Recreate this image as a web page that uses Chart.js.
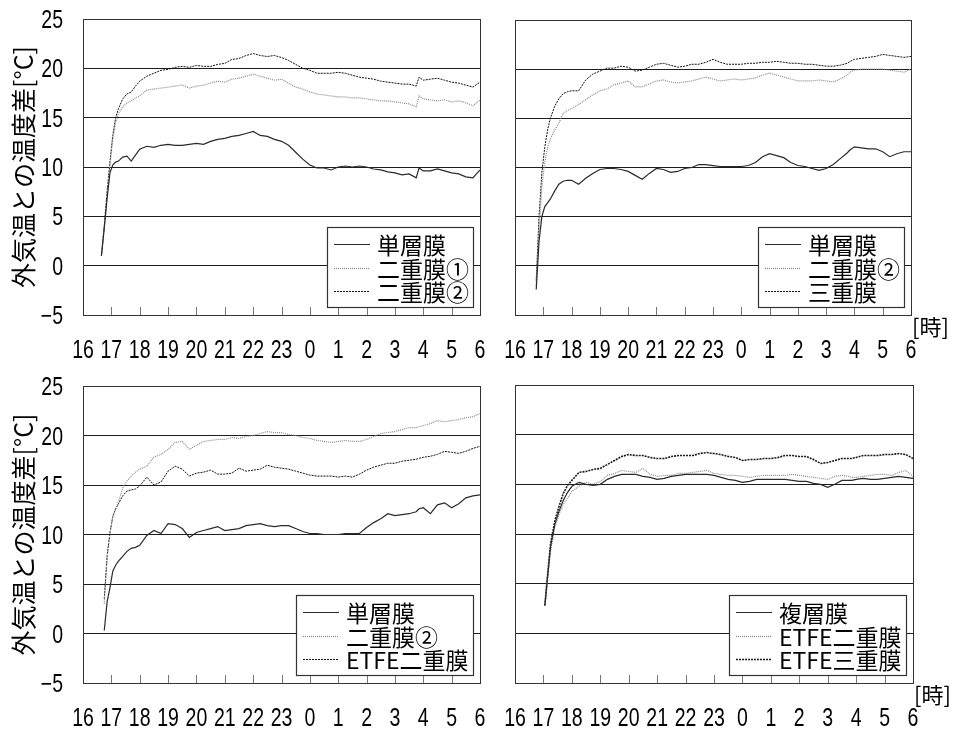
<!DOCTYPE html>
<html>
<head>
<meta charset="utf-8">
<script src="https://cdn.jsdelivr.net/npm/chart.js@4"></script>
<style>
  body { margin: 0; background: #fff; }
  #wrap { position: relative; width: 957px; height: 733px; }
  canvas { position: absolute; }
</style>
</head>
<body>
<div id="wrap">
  <canvas id="c1" width="500" height="370" style="left:0;top:0"></canvas>
  <canvas id="c2" width="477" height="370" style="left:480px;top:0"></canvas>
  <canvas id="c3" width="500" height="367" style="left:0;top:366px"></canvas>
  <canvas id="c4" width="477" height="367" style="left:480px;top:366px"></canvas>
</div>
<script>
// time of day in hours (24 = midnight, 30 = 6:00 next morning)
const HOURS = [
  16.65, 16.75, 16.85, 16.95, 17.05, 17.15, 17.25, 17.4, 17.55, 17.7, 17.85, 18.0,
  18.25, 18.5, 18.75, 19.0, 19.25, 19.5, 19.75, 20.0, 20.25, 20.5, 20.75, 21.0,
  21.25, 21.5, 21.75, 22.0, 22.25, 22.5, 22.75, 23.0, 23.25, 23.5, 23.75, 24.0,
  24.25, 24.5, 24.75, 25.0, 25.25, 25.5, 25.75, 26.0, 26.25, 26.5, 26.75, 27.0,
  27.25, 27.5, 27.75, 27.85, 28.0, 28.25, 28.5, 28.75, 29.0, 29.25, 29.5, 29.75, 30.0
];
const Y_TICKS = [-5, 0, 5, 10, 15, 20, 25];

// top left
const p1Single = [
  1.0, 3.8, 6.8, 9.4, 10.2, 10.5, 10.6, 11.0, 11.1, 10.6, 11.2, 11.8,
  12.1, 12.0, 12.2, 12.3, 12.2, 12.2, 12.3, 12.4, 12.3, 12.6, 12.8, 12.9,
  13.1, 13.2, 13.4, 13.6, 13.2, 13.1, 12.8, 12.6, 12.2, 11.5, 10.8, 10.2,
  9.9, 9.9, 9.7, 10.0, 10.1, 10.0, 10.1, 10.0, 9.8, 9.7, 9.5, 9.4,
  9.2, 9.3, 8.9, 9.9, 9.6, 9.6, 9.8, 9.6, 9.4, 9.3, 9.0, 8.9, 9.7
];
const p1Double1 = [
  1.0, 4.0, 7.3, 10.2, 12.8, 14.5, 15.4, 16.1, 16.5, 16.7, 17.0, 17.2,
  17.8, 17.9, 18.0, 18.1, 18.2, 18.3, 18.0, 18.2, 18.3, 18.5, 18.7, 18.6,
  18.9, 19.0, 19.2, 19.4, 19.2, 19.0, 18.8, 18.9, 18.5, 18.1, 17.9, 17.6,
  17.4, 17.3, 17.2, 17.1, 17.1, 17.0, 17.0, 16.9, 16.8, 16.7, 16.7, 16.6,
  16.5, 16.4, 16.1, 17.2, 16.9, 16.8, 16.7, 16.8, 16.6, 16.7, 16.5, 16.2, 16.8
];
const p1Double2 = [
  1.0, 4.0, 7.5, 10.5, 13.2, 15.0, 15.9, 16.9, 17.4, 17.6, 18.2, 18.7,
  19.2, 19.5, 19.8, 19.9, 20.1, 20.2, 20.1, 20.3, 20.2, 20.2, 20.4, 20.5,
  20.9, 21.0, 21.3, 21.5, 21.3, 21.2, 21.3, 21.1, 20.8, 20.4, 20.0, 19.8,
  19.5, 19.5, 19.5, 19.6, 19.5, 19.3, 19.1, 19.0, 18.9, 18.7, 18.6, 18.5,
  18.4, 18.4, 18.2, 19.1, 18.8, 18.9, 19.0, 18.8, 18.6, 18.5, 18.3, 18.1, 18.6
];

// top right
const p2Single = [
  null, -2.4, 2.5, 5.0, 6.0, 6.4, 6.8, 7.6, 8.3, 8.6, 8.7, 8.7,
  8.3, 8.9, 9.4, 9.8, 9.9, 9.9, 9.8, 9.6, 9.2, 8.8, 9.4, 9.9,
  9.8, 9.5, 9.6, 9.9, 10.0, 10.3, 10.3, 10.2, 10.1, 10.1, 10.1, 10.1,
  10.2, 10.5, 11.1, 11.4, 11.2, 11.0, 10.5, 10.2, 10.1, 9.9, 9.7, 9.9,
  10.3, 10.9, 11.5, 11.8, 12.1, 12.0, 11.9, 11.9, 11.6, 11.1, 11.4, 11.6, 11.6
];
const p2Double2 = [
  null, -2.0, 3.5, 8.0, 10.5, 12.0, 12.9, 13.8, 14.5, 15.5, 15.8, 16.0,
  16.4, 16.9, 17.4, 17.8, 18.0, 18.4, 18.6, 18.8, 18.2, 18.2, 18.5, 18.8,
  18.9, 18.7, 18.6, 18.7, 18.8, 19.0, 19.2, 19.0, 18.8, 18.9, 19.0, 18.9,
  19.0, 19.1, 19.4, 19.6, 19.4, 19.2, 19.0, 18.8, 18.8, 18.8, 18.9, 18.8,
  18.7, 19.0, 19.4, 19.7, 19.9, 20.0, 20.0, 20.0, 20.0, 19.9, 19.8, 19.7, 20.0
];
const p2Triple = [
  null, -1.5, 5.0, 9.5, 12.0, 13.8, 15.0, 16.2, 17.0, 17.5, 17.7, 17.8,
  17.8, 18.9, 19.5, 19.8, 20.1, 20.1, 20.3, 20.2, 19.8, 19.9, 20.2, 20.5,
  20.6, 20.4, 20.2, 20.3, 20.5, 20.5, 20.7, 21.0, 20.7, 20.5, 20.5, 20.5,
  20.6, 20.6, 20.7, 20.7, 20.8, 20.7, 20.6, 20.6, 20.5, 20.5, 20.4, 20.3,
  20.3, 20.4, 20.6, 20.8, 21.0, 21.1, 21.2, 21.3, 21.5, 21.4, 21.3, 21.2, 21.3
];

// bottom left
const p3Single = [
  null, 0.3, 3.2, 4.6, 6.3, 6.9, 7.3, 7.8, 8.3, 8.6, 8.7, 8.9,
  9.9, 10.4, 10.1, 11.1, 11.0, 10.6, 9.7, 10.2, 10.4, 10.6, 10.8, 10.4,
  10.5, 10.6, 10.9, 11.0, 11.1, 10.9, 10.8, 10.9, 10.9, 10.6, 10.3, 10.1,
  10.1, 10.0, 10.0, 10.0, 10.1, 10.1, 10.1, 10.7, 11.2, 11.6, 12.1, 11.9,
  12.0, 12.1, 12.3, 12.6, 12.7, 12.1, 13.0, 13.2, 12.7, 13.1, 13.7, 13.9, 14.0
];
const p3Double2 = [
  null, 3.0, 7.8, 10.0, 11.8, 12.6, 13.3, 14.7, 15.4, 15.9, 16.3, 16.6,
  16.9, 17.8, 18.1, 18.6, 19.3, 19.4, 18.6, 19.0, 19.4, 19.5, 19.6, 19.6,
  19.8, 19.7, 19.9, 20.0, 20.2, 20.4, 20.3, 20.3, 20.1, 20.0, 19.8, 19.7,
  19.5, 19.4, 19.3, 19.4, 19.5, 19.4, 19.4, 19.6, 19.9, 20.2, 20.3, 20.4,
  20.6, 20.8, 20.8, 20.9, 21.0, 21.2, 21.5, 21.4, 21.5, 21.6, 21.8, 21.9, 22.2
];
const p3EtfeDouble = [
  null, 3.5, 7.8, 10.2, 11.8, 12.6, 13.1, 13.9, 14.4, 14.5, 14.6, 14.9,
  15.8, 15.0, 15.3, 16.4, 16.9, 16.6, 15.9, 16.2, 16.3, 16.5, 16.1, 16.1,
  16.2, 16.7, 16.4, 16.5, 16.6, 17.0, 16.8, 16.7, 16.6, 16.4, 16.2, 16.0,
  15.9, 15.9, 15.9, 15.8, 15.9, 15.8, 16.1, 16.5, 16.8, 17.0, 17.2, 17.2,
  17.4, 17.5, 17.6, 17.7, 17.8, 17.9, 18.1, 18.4, 18.3, 18.2, 18.4, 18.7, 18.9
];

// bottom right
const p4Multi = [
  null, null, null, null, 2.8, 5.8, 8.7, 11.0, 12.3, 13.4, 14.2, 14.8,
  15.2, 15.0, 14.9, 15.0, 15.5, 15.8, 16.0, 16.0, 16.0, 15.8, 15.7, 15.5,
  15.6, 15.8, 15.9, 16.0, 16.0, 16.0, 16.0, 15.9, 15.7, 15.5, 15.4, 15.2,
  15.3, 15.5, 15.5, 15.5, 15.5, 15.5, 15.4, 15.3, 15.3, 15.1, 15.0, 14.7,
  15.0, 15.4, 15.4, 15.4, 15.5, 15.6, 15.5, 15.5, 15.6, 15.7, 15.8, 15.7, 15.6
];
const p4EtfeDouble = [
  null, null, null, null, 2.8, 5.5, 8.3, 10.6, 12.0, 13.0, 13.6, 14.3,
  14.8, 15.2, 15.0, 15.3, 15.9, 16.1, 16.4, 16.3, 16.2, 16.6, 16.0, 15.8,
  15.9, 15.9, 16.1, 16.1, 16.2, 16.3, 16.4, 16.1, 16.0, 15.9, 15.9, 15.8,
  15.7, 15.8, 15.9, 15.9, 15.9, 15.9, 16.0, 15.9, 15.8, 15.7, 15.6, 15.5,
  15.8, 15.9, 15.8, 15.7, 15.7, 15.8, 15.9, 16.0, 16.0, 15.9, 16.2, 16.4, 15.8
];
const p4EtfeTriple = [
  null, null, null, null, 2.8, 6.0, 9.0, 11.3, 12.8, 14.1, 14.9, 15.4,
  16.2, 16.3, 16.5, 16.6, 17.0, 17.4, 17.8, 18.0, 17.9, 17.9, 17.7, 17.6,
  17.6, 17.8, 17.9, 17.9, 17.9, 18.1, 18.2, 18.1, 18.0, 17.8, 17.7, 17.4,
  17.5, 17.5, 17.6, 17.6, 17.7, 17.9, 17.9, 17.8, 17.8, 17.5, 17.1, 17.2,
  17.4, 17.6, 17.6, 17.6, 17.7, 17.9, 17.9, 17.9, 18.0, 18.0, 18.1, 18.0, 17.6
];

const NUM_FONT = '25px "Liberation Sans", Arial, sans-serif';
const JP_FONT = '"Noto Sans CJK JP", sans-serif';
const NARROW = 0.78;   // horizontal squeeze for the condensed axis numerals

const lineStyles = {
  solid:  { borderColor: '#2a2a2a', borderWidth: 1.2, borderDash: [] },
  dotted: { borderColor: '#8a8a8a', borderWidth: 1.2, borderDash: [1, 1] },
  dashed: { borderColor: '#111111', borderWidth: 1,   borderDash: [2, 1] },
  heavy:  { borderColor: '#1a1a1a', borderWidth: 1.6, borderDash: [2, 1] }
};

function narrowText(ctx, text, x, y, align) {
  ctx.save();
  ctx.translate(x, y);
  ctx.scale(NARROW, 1);
  ctx.textAlign = align;
  ctx.fillText(text, 0, 0);
  ctx.restore();
}

// plot frame, short inward hour ticks, and the condensed tick numerals
const framePlugin = {
  id: 'frame',
  afterDatasetsDraw(chart, args, opts) {
    const { ctx, chartArea: a } = chart;
    const x = chart.scales.x, y = chart.scales.y;
    ctx.save();
    ctx.strokeStyle = '#777';
    ctx.lineWidth = 1;
    ctx.beginPath();
    x.ticks.forEach(t => {
      const px = Math.round(x.getPixelForValue(t.value)) + 0.5;
      ctx.moveTo(px, a.bottom);
      ctx.lineTo(px, a.bottom - 8);
    });
    ctx.stroke();
    ctx.strokeStyle = '#333';
    ctx.strokeRect(Math.round(a.left) + 0.5, Math.round(a.top) + 0.5,
      Math.round(a.right - a.left), Math.round(a.bottom - a.top));

    ctx.fillStyle = '#000';
    ctx.font = NUM_FONT;
    ctx.textBaseline = 'alphabetic';
    x.ticks.forEach(t => {
      narrowText(ctx, String(t.value % 24), x.getPixelForValue(t.value), a.bottom + 43, 'center');
    });
    if (opts.yLabels) {
      y.ticks.forEach(t => {
        narrowText(ctx, String(t.value).replace('-', '\u2212'), a.left - 20, y.getPixelForValue(t.value) + 9, 'right');
      });
    }
    ctx.restore();
  }
};

// boxed legend in the lower right corner, "[時]" unit label on the right panels
const boxLegend = {
  id: 'boxLegend',
  afterDraw(chart, args, opts) {
    const { ctx, chartArea: a } = chart;
    const sets = chart.data.datasets;
    ctx.save();
    ctx.font = '23px ' + JP_FONT;
    const textW = Math.max(...sets.map(d => ctx.measureText(d.label).width));
    const w = Math.round(50 + textW + 4), h = 80;
    const right = Math.round(a.right) - 7, bottom = Math.round(a.bottom) - 8;
    const left = right - w, top = bottom - h;
    ctx.fillStyle = '#fff';
    ctx.fillRect(left, top, w, h);
    ctx.strokeStyle = '#333';
    ctx.lineWidth = 1.2;
    ctx.strokeRect(left + 0.5, top + 0.5, w, h);
    ctx.textBaseline = 'middle';
    ctx.textAlign = 'left';
    sets.forEach((d, i) => {
      const y = Math.round(top + 17 + i * 23.5) + 0.5;
      ctx.strokeStyle = d.borderColor;
      ctx.lineWidth = d.borderWidth;
      ctx.setLineDash(d.borderDash);
      ctx.beginPath();
      ctx.moveTo(left + 7, y);
      ctx.lineTo(left + 43, y);
      ctx.stroke();
      ctx.setLineDash([]);
      ctx.fillStyle = '#000';
      ctx.fillText(d.label, left + 50, y + 1);
    });
    if (opts.unit) {
      ctx.font = '22px ' + JP_FONT;
      ctx.fillText('[時]', a.right + 1, a.bottom + 12);
    }
    ctx.restore();
  }
};

function makePanel(id, series, o) {
  return new Chart(document.getElementById(id), {
    type: 'line',
    data: {
      datasets: series.map(s => ({
        label: s.label,
        data: HOURS.map((h, i) => ({ x: h, y: s.values[i] })),
        ...lineStyles[s.style],
        pointRadius: 0,
        tension: 0,
        fill: false
      }))
    },
    options: {
      responsive: false,
      animation: false,
      devicePixelRatio: 1,
      layout: { padding: { top: o.top, right: o.right, left: 0, bottom: 0 } },
      plugins: {
        legend: { display: false },
        tooltip: { enabled: false },
        frame: { yLabels: o.labels },
        boxLegend: { unit: o.unit }
      },
      scales: {
        x: {
          type: 'linear',
          min: 16,
          max: 30,
          afterFit: s => { s.height = o.xh; },
          grid: { display: false, drawTicks: false },
          border: { display: false },
          ticks: { stepSize: 1, autoSkip: false, display: false }
        },
        y: {
          min: Y_TICKS[0],
          max: Y_TICKS[Y_TICKS.length - 1],
          afterFit: s => { s.width = o.yw; },
          afterBuildTicks: s => { s.ticks = Y_TICKS.map(v => ({ value: v })); },
          grid: { color: '#1e1e1e', drawTicks: false },
          border: { display: false },
          ticks: { display: false },
          title: {
            display: o.labels,
            text: '外気温との温度差[°C]',
            color: '#000',
            font: { family: JP_FONT, size: 25 },
            padding: { top: 8, bottom: 0 }
          }
        }
      }
    },
    plugins: [framePlugin, boxLegend]
  });
}

makePanel('c1', [
  { label: '単層膜', values: p1Single, style: 'solid' },
  { label: '二重膜①', values: p1Double1, style: 'dotted' },
  { label: '二重膜②', values: p1Double2, style: 'dashed' }
], { top: 19, right: 20, xh: 55, yw: 83, labels: true, unit: false });

makePanel('c2', [
  { label: '単層膜', values: p2Single, style: 'solid' },
  { label: '二重膜②', values: p2Double2, style: 'dotted' },
  { label: '三重膜', values: p2Triple, style: 'dashed' }
], { top: 20, right: 46, xh: 55, yw: 35, labels: false, unit: true });

makePanel('c3', [
  { label: '単層膜', values: p3Single, style: 'solid' },
  { label: '二重膜②', values: p3Double2, style: 'dotted' },
  { label: 'ETFE二重膜', values: p3EtfeDouble, style: 'dashed' }
], { top: 20, right: 20, xh: 50, yw: 83, labels: true, unit: false });

makePanel('c4', [
  { label: '複層膜', values: p4Multi, style: 'solid' },
  { label: 'ETFE二重膜', values: p4EtfeDouble, style: 'dotted' },
  { label: 'ETFE三重膜', values: p4EtfeTriple, style: 'heavy' }
], { top: 19, right: 44, xh: 50, yw: 35, labels: false, unit: true });
</script>
</body>
</html>
